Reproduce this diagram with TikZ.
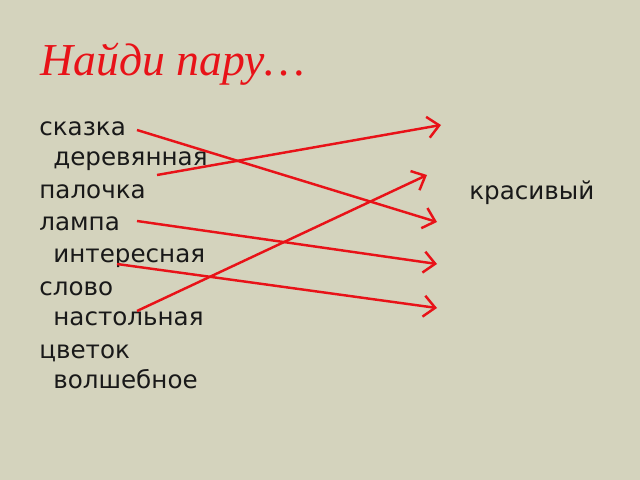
\documentclass[tikz,border=0pt]{standalone}
\usepackage{fontspec}
\setmainfont{DejaVu Sans}
\newfontfamily\titlefont{Liberation Serif}
\usetikzlibrary{arrows.meta}
\definecolor{bg}{RGB}{212,211,189}
\definecolor{rd}{RGB}{232,18,24}
\definecolor{ink}{RGB}{25,25,25}
\tikzset{
	word/.style={anchor=base west, inner sep=0pt, text=ink, font=\fontsize{14}{16}\selectfont},
	pair/.style={rd, line width=1.4pt, -{Straight Barb[length=6.5pt,width=12pt,line width=1.4pt]}}
}

\begin{document}
\begin{tikzpicture}[x=0.02cm,y=-0.02cm]
	\fill[bg]	(0,0) rectangle (640,480);
	\useasboundingbox	(0,0) rectangle (640,480);

	\node[anchor=base west, inner sep=0pt, text=rd, font=\titlefont\itshape\fontsize{26}{30}\selectfont] (title) at (40,75) {Найди пару…};

	\node[word] (skazka)	at (39,135) {сказка};
	\node[word] (der)		at (53,165) {деревянная};
	\node[word] (palochka)	at (39,198) {палочка};
	\node[word] (lampa)		at (39,230) {лампа};
	\node[word] (inter)		at (53,262) {интересная};
	\node[word] (slovo)		at (39,295) {слово};
	\node[word] (nast)		at (53,325) {настольная};
	\node[word] (cvetok)	at (39,358) {цветок};
	\node[word] (volsh)		at (53,388) {волшебное};
	\node[word] (kras)		at (469,199) {красивый};

	\coordinate (s1) at (137,130);	\coordinate (e1) at (437,222);
	\coordinate (s2) at (157,175);	\coordinate (e2) at (441,125);
	\coordinate (s3) at (137,221);	\coordinate (e3) at (437,264);
	\coordinate (s4) at (117,264);	\coordinate (e4) at (437,308);
	\coordinate (s5) at (137,311);	\coordinate (e5) at (427,175);

	\draw[pair]	(s1) -- (e1);
	\draw[pair]	(s2) -- (e2);
	\draw[pair]	(s3) -- (e3);
	\draw[pair]	(s4) -- (e4);
	\draw[pair]	(s5) -- (e5);
\end{tikzpicture}
\end{document}
